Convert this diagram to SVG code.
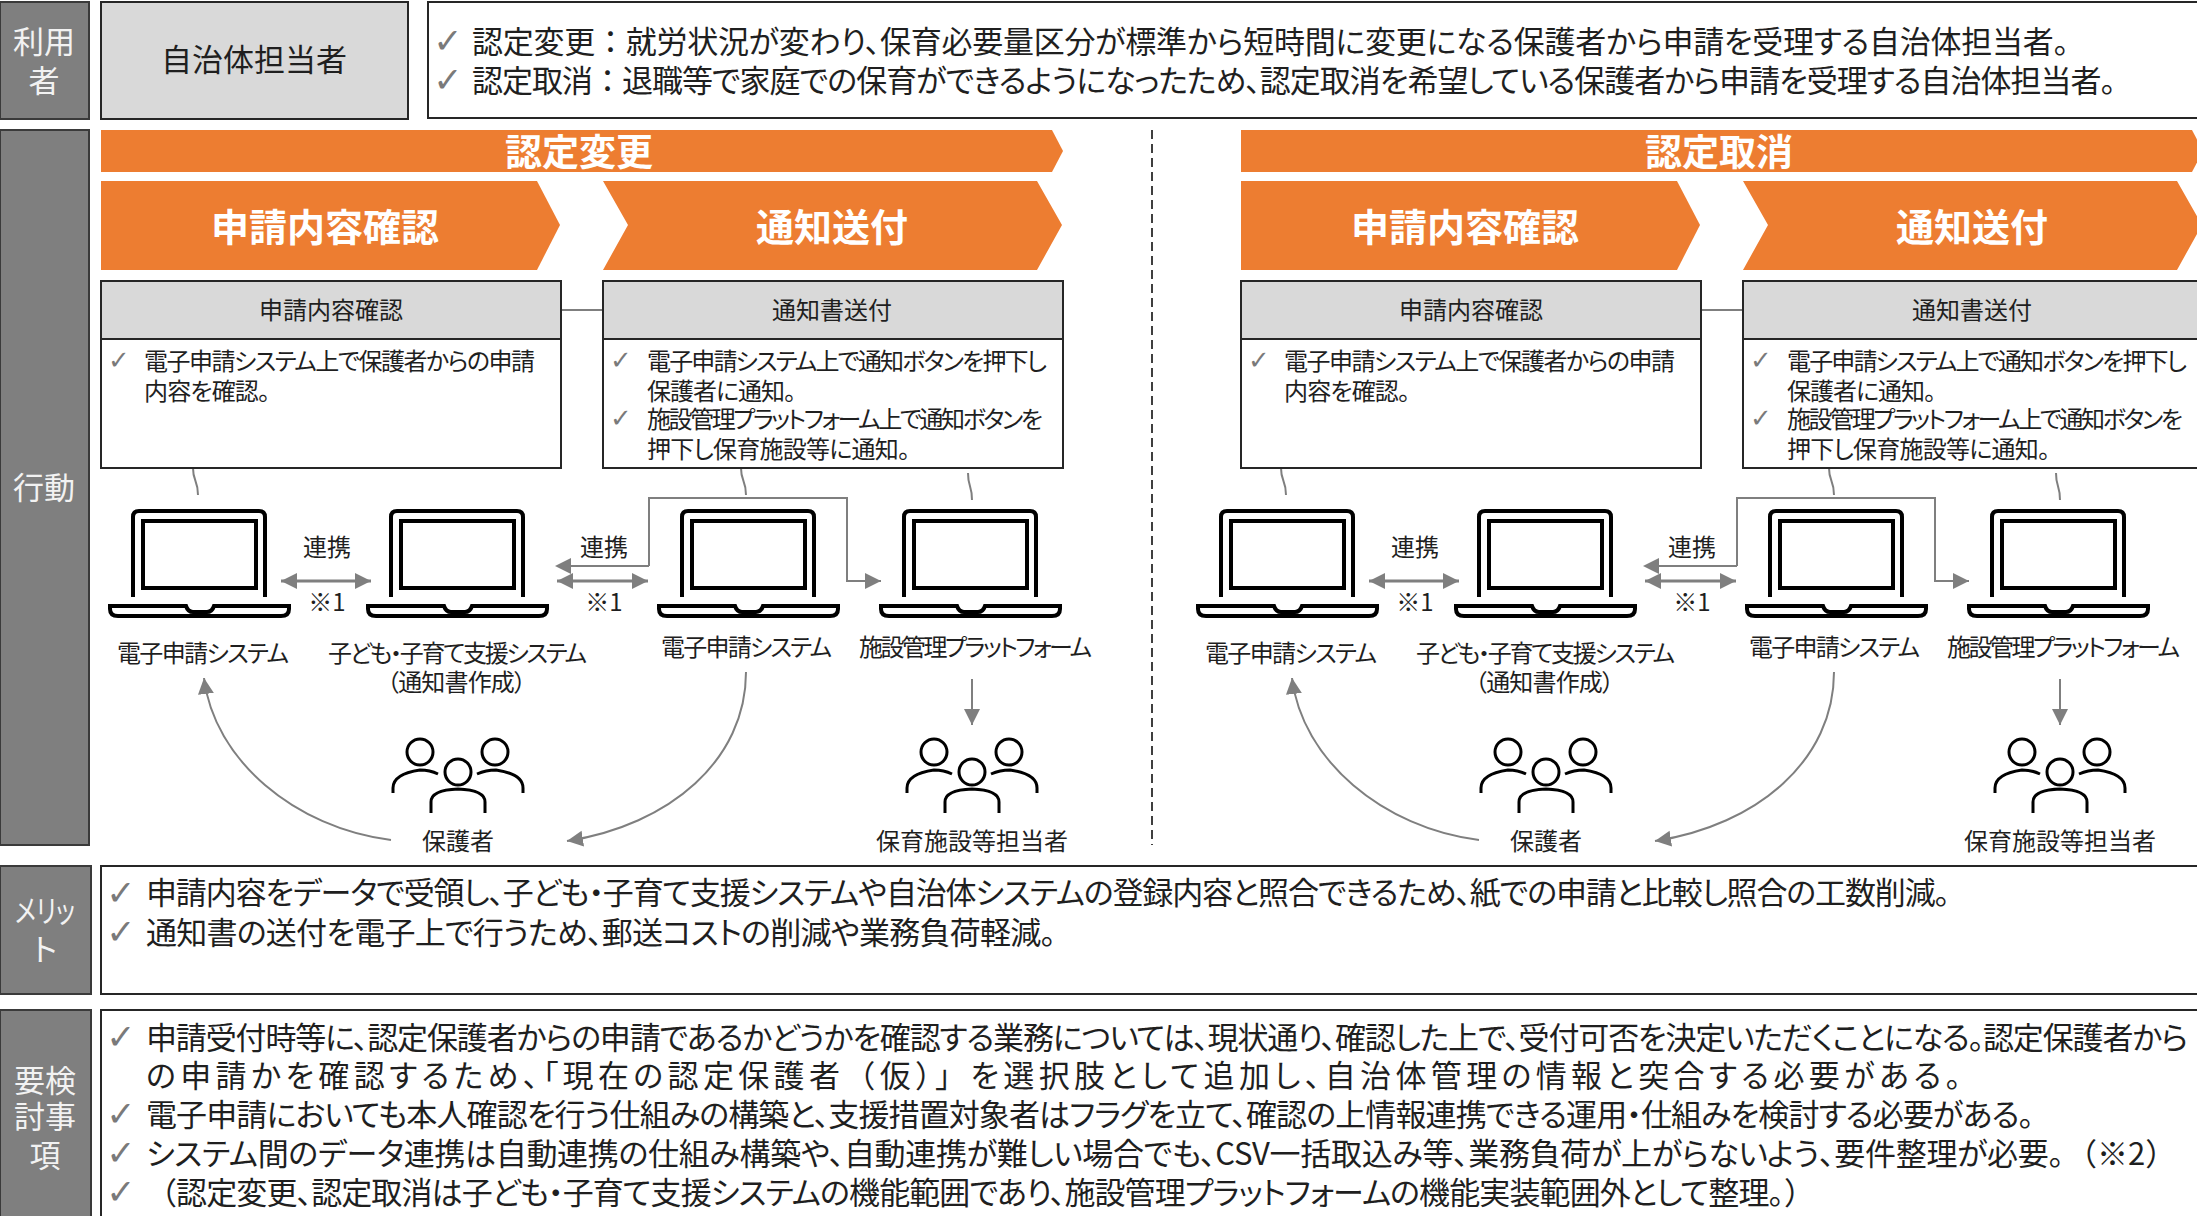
<svg xmlns="http://www.w3.org/2000/svg" xmlns:xlink="http://www.w3.org/1999/xlink" width="2197" height="1216" viewBox="0 0 2197 1216">
<style>
text{font-family:"Noto Sans CJK JP","Noto Sans",sans-serif;font-feature-settings:"palt";fill:#1f1f1f;dominant-baseline:central}
.fw{font-feature-settings:normal}
.side{fill:#7f7f7f;stroke:#3a3a3a;stroke-width:2}
.sidet{fill:#f2f2f2;font-size:31px;text-anchor:middle}
.box{fill:#fff;stroke:#262626;stroke-width:2}
.head{fill:#d9d9d9;stroke:#262626;stroke-width:2}
.or{fill:#ed7d31}
.ban{fill:#fff;font-weight:700;font-size:37px;text-anchor:middle}
.chv{fill:#fff;font-weight:700;font-size:38px;text-anchor:middle}
.m{font-size:24px;text-anchor:middle}
.s{font-size:24px}
.l{font-size:31px}
.c,.cs{font-family:"DejaVu Sans",sans-serif;fill:#7a7a7a;text-anchor:middle;font-feature-settings:normal}
.c{font-size:35px}
.cs{font-size:26px}
.ln{fill:none;stroke:#7f7f7f;stroke-width:2}
.tk{fill:none;stroke:#7f7f7f;stroke-width:3}
.ic{fill:none;stroke:#000;stroke-width:4}
.pp{fill:none;stroke:#000;stroke-width:3}
</style>
<defs>
<marker id="ah" markerUnits="userSpaceOnUse" markerWidth="18" markerHeight="18" refX="16" refY="9" orient="auto-start-reverse"><path d="M0,1 L16,9 L0,17 Z" fill="#7f7f7f"/></marker>
<g id="laptop">
<path class="ic" d="M0,88 V8 Q0,2 6,2 H126 Q132,2 132,8 V88"/>
<rect class="ic" x="10" y="12" width="113" height="67"/>
<path class="ic" d="M-23,97 H53 Q55,103 60,103 H74 Q79,103 81,97 H156 V100 Q156,107 148,107 H-15 Q-23,107 -23,100 Z"/>
</g>
<g id="people">
<ellipse class="pp" cx="-38" cy="12" rx="13" ry="13"/>
<ellipse class="pp" cx="37" cy="12" rx="13" ry="13"/>
<ellipse class="pp" cx="0" cy="32" rx="13" ry="13"/>
<path class="pp" d="M-65,53 V48 Q-65,34 -38,30 Q-28,30 -20,34"/>
<path class="pp" d="M65,53 V48 Q65,34 38,30 Q28,30 19,34"/>
<path class="pp" d="M-27,73 V62 Q-27,50 0,49 Q27,50 27,62 V73"/>
</g>
</defs>

<g id="row-user">
<rect class="side" x="0" y="2" width="89" height="117"/>
<text class="sidet" x="44" y="39">利用</text><text class="sidet" x="44" y="78">者</text>
</g>
<g id="node-official">
<rect class="head" x="101" y="2" width="307" height="117"/>
<text x="254" y="57" font-size="31" text-anchor="middle">自治体担当者</text>
</g>
<g id="node-user-desc">
<rect class="box" x="428" y="2" width="1775" height="116"/>
<text class="c" x="448" y="41">✓</text>
<text class="l" x="472" y="39" textLength="1597">認定変更<tspan class="fw">：</tspan>就労状況が変わり、保育必要量区分が標準から短時間に変更になる保護者から申請を受理する自治体担当者。</text>
<text class="c" x="448" y="80">✓</text>
<text class="l" x="472" y="78" textLength="1644">認定取消<tspan class="fw">：</tspan>退職等で家庭での保育ができるようになったため、認定取消を希望している保護者から申請を受理する自治体担当者。</text>
</g>
<g id="row-action">
<rect class="side" x="0" y="130" width="89" height="715"/>
<text class="sidet" x="44" y="485">行動</text>
</g>

<g id="flow-change-header">
<polygon class="or" points="101,130 1052,130 1063,151 1052,172 101,172"/>
<text class="ban" x="579" y="149.5">認定変更</text>
<polygon class="or" points="101,181 537,181 560,225 537,270 101,270"/>
<text class="chv" x="325" y="224.5">申請内容確認</text>
<polygon class="or" points="603,181 1037,181 1062,225 1037,270 603,270 628,225"/>
<text class="chv" x="832" y="224.5">通知送付</text>
</g>
<g id="flow-cancel-header">
<polygon class="or" points="1241,130 2192,130 2203,151 2192,172 1241,172"/>
<text class="ban" x="1719" y="149.5">認定取消</text>
<polygon class="or" points="1241,181 1677,181 1700,225 1677,270 1241,270"/>
<text class="chv" x="1465" y="224.5">申請内容確認</text>
<polygon class="or" points="1743,181 2177,181 2202,225 2177,270 1743,270 1768,225"/>
<text class="chv" x="1972" y="224.5">通知送付</text>
</g>

<g id="connectors">
<path class="ln" d="M561,310 H603"/>
<path class="ln" d="M193,468 C193,482 198,480 198,495"/>
<path class="ln" d="M741,468 C741,482 746,480 746,495"/>
<path class="ln" d="M968,473 C968,487 972,485 972,500"/>
<path class="tk" marker-start="url(#ah)" marker-end="url(#ah)" d="M281,581 H371"/>
<path class="tk" marker-start="url(#ah)" marker-end="url(#ah)" d="M557,581 H648"/>
<path class="ln" marker-end="url(#ah)" d="M649,566 V498 H847 V581 H881" />
<path class="ln" d="M649,566 H570"/>
<polygon points="555,566 571,558 571,574" fill="#7f7f7f"/>
<path class="ln" marker-end="url(#ah)" d="M391,840 C295,828 214,760 204,678"/>
<path class="ln" marker-end="url(#ah)" d="M746,672 C746,760 670,825 567,841"/>
<path class="ln" marker-end="url(#ah)" d="M972,679 V725"/>
<g transform="translate(1140 0)"><path class="ln" d="M561,310 H603"/></g>
<g transform="translate(1088 0)">
<path class="ln" d="M193,468 C193,482 198,480 198,495"/>
<path class="ln" d="M741,468 C741,482 746,480 746,495"/>
<path class="ln" d="M968,473 C968,487 972,485 972,500"/>
<path class="tk" marker-start="url(#ah)" marker-end="url(#ah)" d="M281,581 H371"/>
<path class="tk" marker-start="url(#ah)" marker-end="url(#ah)" d="M557,581 H648"/>
<path class="ln" marker-end="url(#ah)" d="M649,566 V498 H847 V581 H881"/>
<path class="ln" d="M649,566 H570"/>
<polygon points="555,566 571,558 571,574" fill="#7f7f7f"/>
<path class="ln" marker-end="url(#ah)" d="M391,840 C295,828 214,760 204,678"/>
<path class="ln" marker-end="url(#ah)" d="M746,672 C746,760 670,825 567,841"/>
<path class="ln" marker-end="url(#ah)" d="M972,679 V725"/>
</g>
<path d="M1152,130 V845" fill="none" stroke="#000" stroke-width="1.5" stroke-dasharray="9 5"/>
</g>

<g id="step-change-review">
<rect class="box" x="101" y="339" width="460" height="129"/>
<rect class="head" x="101" y="281" width="460" height="58"/>
<text class="m" x="331" y="308">申請内容確認</text>
<text class="cs" x="119" y="360">✓</text>
<text class="s" x="144" y="359" textLength="391">電子申請システム上で保護者からの申請</text>
<text class="s" x="144" y="389" textLength="126">内容を確認。</text>
</g>
<g id="step-change-notify">
<rect class="box" x="603" y="339" width="460" height="129"/>
<rect class="head" x="603" y="281" width="460" height="58"/>
<text class="m" x="832" y="308">通知書送付</text>
<text class="cs" x="621" y="360">✓</text>
<text class="s" x="647" y="359" textLength="400">電子申請システム上で通知ボタンを押下し</text>
<text class="s" x="647" y="389" textLength="149">保護者に通知。</text>
<text class="cs" x="621" y="418">✓</text>
<text class="s" x="647" y="417" textLength="396">施設管理プラットフォーム上で通知ボタンを</text>
<text class="s" x="647" y="447" textLength="263">押下し保育施設等に通知。</text>
</g>
<g id="step-cancel-review">
<rect class="box" x="1241" y="339" width="460" height="129"/>
<rect class="head" x="1241" y="281" width="460" height="58"/>
<text class="m" x="1471" y="308">申請内容確認</text>
<text class="cs" x="1259" y="360">✓</text>
<text class="s" x="1284" y="359" textLength="391">電子申請システム上で保護者からの申請</text>
<text class="s" x="1284" y="389" textLength="126">内容を確認。</text>
</g>
<g id="step-cancel-notify">
<rect class="box" x="1743" y="339" width="460" height="129"/>
<rect class="head" x="1743" y="281" width="460" height="58"/>
<text class="m" x="1972" y="308">通知書送付</text>
<text class="cs" x="1761" y="360">✓</text>
<text class="s" x="1787" y="359" textLength="400">電子申請システム上で通知ボタンを押下し</text>
<text class="s" x="1787" y="389" textLength="149">保護者に通知。</text>
<text class="cs" x="1761" y="418">✓</text>
<text class="s" x="1787" y="417" textLength="396">施設管理プラットフォーム上で通知ボタンを</text>
<text class="s" x="1787" y="447" textLength="263">押下し保育施設等に通知。</text>
</g>

<g id="change-system-apply"><use href="#laptop" x="133" y="509"/><text class="s" x="117" y="651" textLength="172">電子申請システム</text></g>
<g id="change-system-child"><use href="#laptop" x="391" y="509"/><text class="s" x="328" y="651" textLength="259">子ども・子育て支援システム</text><text class="s" x="387" y="680" textLength="139">（通知書作成）</text></g>
<g id="change-system-apply2"><use href="#laptop" x="682" y="509"/><text class="s" x="661" y="645" textLength="171">電子申請システム</text></g>
<g id="change-system-facility"><use href="#laptop" x="904" y="509"/><text class="s" x="859" y="645" textLength="233">施設管理プラットフォーム</text></g>
<g id="change-guardian"><use href="#people" x="458" y="740"/><text class="m" x="458" y="839">保護者</text></g>
<g id="change-facility-staff"><use href="#people" x="972" y="740"/><text class="m" x="972" y="839">保育施設等担当者</text></g>
<g id="change-link-1"><text class="m" x="327" y="545">連携</text><text class="m" x="327" y="600">※1</text></g>
<g id="change-link-2"><text class="m" x="604" y="545">連携</text><text class="m" x="604" y="600">※1</text></g>

<g id="cancel-system-apply"><use href="#laptop" x="1221" y="509"/><text class="s" x="1205" y="651" textLength="172">電子申請システム</text></g>
<g id="cancel-system-child"><use href="#laptop" x="1479" y="509"/><text class="s" x="1416" y="651" textLength="259">子ども・子育て支援システム</text><text class="s" x="1475" y="680" textLength="139">（通知書作成）</text></g>
<g id="cancel-system-apply2"><use href="#laptop" x="1770" y="509"/><text class="s" x="1749" y="645" textLength="171">電子申請システム</text></g>
<g id="cancel-system-facility"><use href="#laptop" x="1992" y="509"/><text class="s" x="1947" y="645" textLength="233">施設管理プラットフォーム</text></g>
<g id="cancel-guardian"><use href="#people" x="1546" y="740"/><text class="m" x="1546" y="839">保護者</text></g>
<g id="cancel-facility-staff"><use href="#people" x="2060" y="740"/><text class="m" x="2060" y="839">保育施設等担当者</text></g>
<g id="cancel-link-1"><text class="m" x="1415" y="545">連携</text><text class="m" x="1415" y="600">※1</text></g>
<g id="cancel-link-2"><text class="m" x="1692" y="545">連携</text><text class="m" x="1692" y="600">※1</text></g>

<g id="row-merit">
<rect class="side" x="0" y="866" width="91" height="128"/>
<text x="15" y="908" font-size="31" style="fill:#f2f2f2" textLength="60" lengthAdjust="spacingAndGlyphs">メリッ</text><text class="sidet" x="45" y="947">ト</text>
<rect class="box" x="101" y="866" width="2102" height="128"/>
<text class="c" x="121" y="893">✓</text>
<text class="l" x="146" y="890" textLength="1804">申請内容をデータで受領し、子ども・子育て支援システムや自治体システムの登録内容と照合できるため、紙での申請と比較し照合の工数削減。</text>
<text class="c" x="121" y="932">✓</text>
<text class="l" x="146" y="930" textLength="910">通知書の送付を電子上で行うため、郵送コストの削減や業務負荷軽減。</text>
</g>
<g id="row-issues">
<rect class="side" x="0" y="1010" width="91" height="210"/>
<text class="sidet" x="45" y="1078">要検</text><text class="sidet" x="45" y="1114">討事</text><text class="sidet" x="45" y="1153">項</text>
<rect class="box" x="101" y="1010" width="2102" height="210"/>
<text class="c" x="121" y="1037">✓</text>
<text class="l" x="146" y="1035" textLength="2042">申請受付時等に、認定保護者からの申請であるかどうかを確認する業務については、現状通り、確認した上で、受付可否を決定いただくことになる。認定保護者から</text>
<text class="l" x="146" y="1073" textLength="1815">の申請かを確認するため、「現在の認定保護者<tspan class="fw">（仮）」</tspan>を選択肢として追加し、自治体管理の情報と突合する必要がある。</text>
<text class="c" x="121" y="1114">✓</text>
<text class="l" x="146" y="1112" textLength="1888">電子申請においても本人確認を行う仕組みの構築と、支援措置対象者はフラグを立て、確認の上情報連携できる運用・仕組みを検討する必要がある。</text>
<text class="c" x="121" y="1153">✓</text>
<text class="l" x="146" y="1151" textLength="1918">システム間のデータ連携は自動連携の仕組み構築や、自動連携が難しい場合でも、CSV一括取込み等、業務負荷が上がらないよう、要件整理が必要。</text>
<text class="l fw" x="2066" y="1151">（※2）</text>
<text class="c" x="121" y="1192">✓</text>
<text class="l" x="146" y="1190" textLength="1638"><tspan class="fw">（</tspan>認定変更、認定取消は子ども・子育て支援システムの機能範囲であり、施設管理プラットフォームの機能実装範囲外として整理。</text>
<text class="l fw" x="1784" y="1190">）</text>
</g>
</svg>
